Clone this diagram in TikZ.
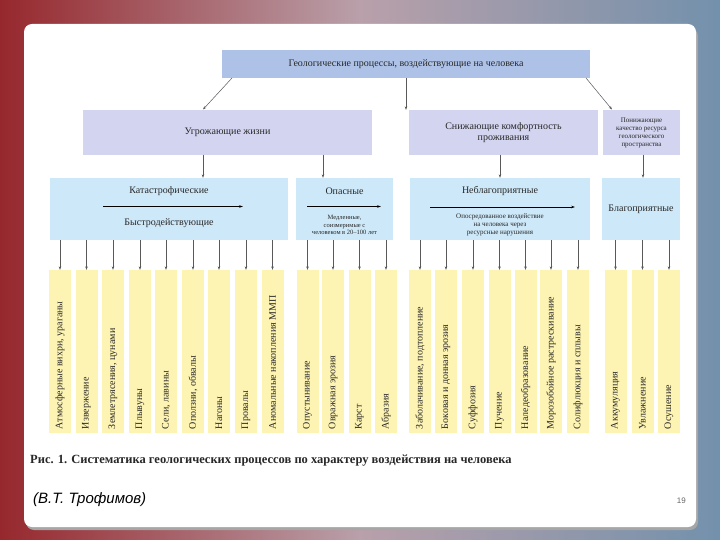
\documentclass[tikz,border=0pt]{standalone}
\usepackage{fontspec}
\setmainfont{Liberation Serif}
\newfontfamily\authorfont{Liberation Sans}
\usetikzlibrary{arrows.meta}
\definecolor{topblue}{RGB}{174,194,232}
\definecolor{lav}{RGB}{210,212,240}
\definecolor{sky}{RGB}{205,232,248}
\definecolor{pale}{RGB}{253,243,178}
\definecolor{bgred}{RGB}{150,40,45}
\definecolor{bgmid}{RGB}{185,160,170}
\definecolor{bgblue}{RGB}{115,145,172}
\definecolor{txt}{RGB}{40,40,40}
\begin{document}
\begin{tikzpicture}[x=1pt,y=-1pt,
  box/.style={draw=none,inner sep=1pt,align=center,text=txt,font=\fontsize{10}{11}\selectfont},
  small/.style={font=\fontsize{6.5}{7.3}\selectfont,align=center,text=txt},
  coltext/.style={rotate=90,anchor=west,inner sep=0pt,text=txt,font=\fontsize{10}{10}\selectfont},
  colbox/.style={fill=pale,minimum width=22,minimum height=163,inner sep=0pt},
  arr/.style={-{Stealth[length=3.5pt,width=2.6pt]},draw=black!65,line width=0.5pt},
  inarr/.style={-{Stealth[length=4pt,width=2.6pt]},draw=black,line width=0.6pt}]
\useasboundingbox (0,0) rectangle (720,540);
\shade[left color=bgred,right color=bgblue,middle color=bgmid] (0,0) rectangle (720,540);
\fill[black!35,rounded corners=8] (26,28) rectangle (698,530);
\fill[white,rounded corners=8] (24,24) rectangle (696,527);

% level 1
\node[box,fill=topblue,minimum width=368,minimum height=28] (top) at (406,64)
  {Геологические процессы, воздействующие на человека};

% level 2
\node[box,fill=lav,minimum width=289,minimum height=45,font=\fontsize{10}{11.5}\selectfont] (life) at (227.5,132.5) {Угрожающие жизни};
\node[box,fill=lav,minimum width=189,minimum height=45,font=\fontsize{10}{11.5}\selectfont] (comf) at (503.5,132.5) {Снижающие комфортность\\проживания};
\node[box,fill=lav,minimum width=77,minimum height=45,font=\fontsize{7}{8}\selectfont] (res) at (641.5,132.5) {Понижающие\\качество ресурса\\геологического\\пространства};

\coordinate (tl) at (232,78);
\coordinate (tr) at (586,78);
\draw[arr] (tl) -- (203,109.5);
\draw[arr] (top.south) -- (top.south |- comf.north);
\draw[arr] (tr) -- (612,109.5);

% level 3
\node[box,fill=sky,minimum width=238,minimum height=62] (cat) at (169,209) {};
\node[box,fill=sky,minimum width=97,minimum height=62] (dang) at (344.5,209) {};
\node[box,fill=sky,minimum width=180,minimum height=62] (unf) at (500,209) {};
\node[box,fill=sky,minimum width=78,minimum height=62] (fav) at (641,209) {Благоприятные};

\node[box] (catT) at (169,191) {Катастрофические};
\node[box] (catB) at (169,223) {Быстродействующие};
\coordinate (ca1) at (103,206.5); \coordinate (ca2) at (243,206.5);
\draw[inarr] (ca1) -- (ca2);

\node[box] (dangT) at (344.5,191) {Опасные};
\node[small] (dangB) at (344.5,225) {Медленные,\\соизмеримые с\\человеком в 20–100 лет};
\coordinate (da1) at (307,206.5); \coordinate (da2) at (381,206.5);
\draw[inarr] (da1) -- (da2);

\node[box] (unfT) at (500,191) {Неблагоприятные};
\node[small,font=\fontsize{7}{7.8}\selectfont] (unfB) at (500,225) {Опосредованное воздействие\\на человека через\\ресурсные нарушения};
\coordinate (ua1) at (430,207); \coordinate (ua2) at (575,207);
\draw[inarr] (ua1) -- (ua2);

\coordinate (l2a) at (203,155); \coordinate (l2b) at (323,155);
\coordinate (l2c) at (500,155); \coordinate (l2d) at (643,155);
\draw[arr] (l2a) -- (l2a |- cat.north);
\draw[arr] (l2b) -- (l2b |- cat.north);
\draw[arr] (l2c) -- (l2c |- unf.north);
\draw[arr] (l2d) -- (l2d |- fav.north);

% level 4 columns
\foreach \x/\t/\p [count=\i] in {
  60/{Атмосферные вихри, ураганы}/cat,
  86.5/{Извержение}/cat,
  113/{Землетрясения, цунами}/cat,
  140/{Плывуны}/cat,
  166/{Сели, лавины}/cat,
  193/{Оползни, обвалы}/cat,
  219/{Нагоны}/cat,
  246/{Провалы}/cat,
  272.5/{Аномальные накопления ММП}/cat,
  307.5/{Опустынивание}/dang,
  333/{Овражная эрозия}/dang,
  359.5/{Карст}/dang,
  386/{Абразия}/dang,
  420/{Заболачивание, подтопление}/unf,
  446/{Боковая и донная эрозия}/unf,
  473/{Суффозия}/unf,
  499.5/{Пучение}/unf,
  525.5/{Наледеобразование}/unf,
  551/{Морозобойное растрескивание}/unf,
  578/{Солифлюкция и сплывы}/unf,
  615.5/{Аккумуляция}/fav,
  642.5/{Увлажнение}/fav,
  669/{Осушение}/fav} {
  \node[colbox] (c\i) at (\x,351.5) {};
  \node[coltext] (t\i) at ([yshift=4pt]c\i.south) {\t};
  \draw[arr] (c\i.north |- \p.south) -- (c\i.north);
}

\node[anchor=base west,inner sep=0pt,font=\bfseries\fontsize{12.5}{14}\selectfont,text=txt] (cap) at (30,463)
  {Рис. 1. Систематика геологических процессов по характеру воздействия на человека};
\node[anchor=base west,inner sep=0pt,font=\authorfont\itshape\fontsize{15}{17}\selectfont] (auth) at (33,503) {(В.Т. Трофимов)};
\node[anchor=base east,inner sep=0pt,font=\authorfont\fontsize{8}{9}\selectfont,text=black!60] (pg) at (686,503) {19};
\end{tikzpicture}
\end{document}
